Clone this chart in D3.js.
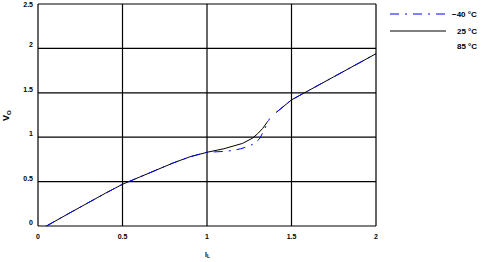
<!DOCTYPE html>
<html>
<head>
<meta charset="utf-8">
<script src="https://cdn.jsdelivr.net/npm/d3@7"></script>
<style>
body { margin: 0; background: #fff; }
text { font-family: "Liberation Sans", Arial, sans-serif; font-weight: bold; fill: #000; }
</style>
</head>
<body>
<div id="chart"></div>
<script>
var width = 497, height = 262;

// tick labels
var xTicks = [0, 0.5, 1, 1.5, 2];
var yTicks = [0, 0.5, 1, 1.5, 2, 2.5];

// -40 °C (blue dash-dot)
var coldX = [0.05, 0.2, 0.4, 0.5, 0.6, 0.8, 0.9, 1.0, 1.1, 1.15, 1.2, 1.25, 1.28, 1.31, 1.33, 1.35, 1.37];
var coldY = [0.0, 0.16, 0.37, 0.47, 0.55, 0.71, 0.78, 0.83, 0.84, 0.85, 0.87, 0.90, 0.93, 0.98, 1.05, 1.13, 1.21];
// 25 °C (black)
var roomX = [0.05, 0.2, 0.4, 0.5, 0.6, 0.8, 0.9, 1.0, 1.1, 1.21, 1.27, 1.3, 1.33, 1.36];
var roomY = [0.0, 0.16, 0.37, 0.47, 0.55, 0.71, 0.78, 0.83, 0.87, 0.93, 0.99, 1.04, 1.10, 1.18];
// upper segment, common to both
var upperX = [1.41, 1.5, 1.75, 2.0];
var upperY = [1.28, 1.42, 1.68, 1.94];

var legendNames = ["\u221240 \u00b0C", "25 \u00b0C", "85 \u00b0C"];

var svg = d3.select("#chart").append("svg")
    .attr("width", width)
    .attr("height", height);

var x = d3.scaleLinear().domain([0, 2]).range([38, 376]);
var y = d3.scaleLinear().domain([0, 2.5]).range([226, 4]);

// grid
svg.append("g").selectAll("line")
    .data(xTicks).enter().append("line")
    .attr("x1", d => x(d)).attr("x2", d => x(d))
    .attr("y1", y(0)).attr("y2", y(2.5))
    .attr("stroke", "#000").attr("stroke-width", 1.2);
svg.append("g").selectAll("line")
    .data(yTicks).enter().append("line")
    .attr("x1", x(0)).attr("x2", x(2))
    .attr("y1", d => y(d)).attr("y2", d => y(d))
    .attr("stroke", "#000").attr("stroke-width", 1.2);

// tick labels
svg.append("g").selectAll("text")
    .data(xTicks).enter().append("text")
    .attr("x", d => x(d)).attr("y", 239)
    .attr("text-anchor", "middle")
    .attr("font-size", "7px")
    .text(d => d);
svg.append("g").selectAll("text")
    .data(yTicks).enter().append("text")
    .attr("x", 33).attr("y", d => Math.max(y(d) - 1, 7))
    .attr("text-anchor", "end")
    .attr("font-size", "7px")
    .text(d => d);

// axis titles
var yt = svg.append("text")
    .attr("transform", "translate(9,121) rotate(-90)")
    .attr("font-size", "9px");
yt.append("tspan").text("V");
yt.append("tspan").attr("font-size", "6px").attr("dy", 2).text("O");

var xt = svg.append("text")
    .attr("x", 205).attr("y", 257)
    .attr("font-size", "7px");
xt.append("tspan").text("I");
xt.append("tspan").attr("font-size", "5px").attr("dy", 1).text("L");

var line = d3.line().x(d => x(d[0])).y(d => y(d[1]));
function pts(xs, ys) { return xs.map((v, i) => [v, ys[i]]); }

svg.append("path").attr("d", line(pts(roomX, roomY)))
    .attr("fill", "none").attr("stroke", "#000").attr("stroke-width", 1);
svg.append("path").attr("d", line(pts(upperX, upperY)))
    .attr("fill", "none").attr("stroke", "#000").attr("stroke-width", 1);
svg.append("path").attr("d", line(pts(coldX, coldY)))
    .attr("fill", "none").attr("stroke", "#0000ff").attr("stroke-width", 1)
    .attr("stroke-dasharray", "9,6,2,6");
svg.append("path").attr("d", line(pts(upperX, upperY)))
    .attr("fill", "none").attr("stroke", "#0000ff").attr("stroke-width", 1)
    .attr("stroke-dasharray", "9,6,2,6");

// legend
var lg = svg.append("g");
lg.append("line").attr("x1", 390).attr("x2", 446).attr("y1", 14).attr("y2", 14)
    .attr("stroke", "#0000ff").attr("stroke-dasharray", "9,6,2,6");
lg.append("line").attr("x1", 390).attr("x2", 446).attr("y1", 31).attr("y2", 31)
    .attr("stroke", "#000");
lg.selectAll("text").data(legendNames).enter().append("text")
    .attr("x", (d, i) => i == 0 ? 452 : 457)
    .attr("y", (d, i) => [17, 34, 49][i])
    .attr("font-size", "8px")
    .text(d => d);
</script>
</body>
</html>
